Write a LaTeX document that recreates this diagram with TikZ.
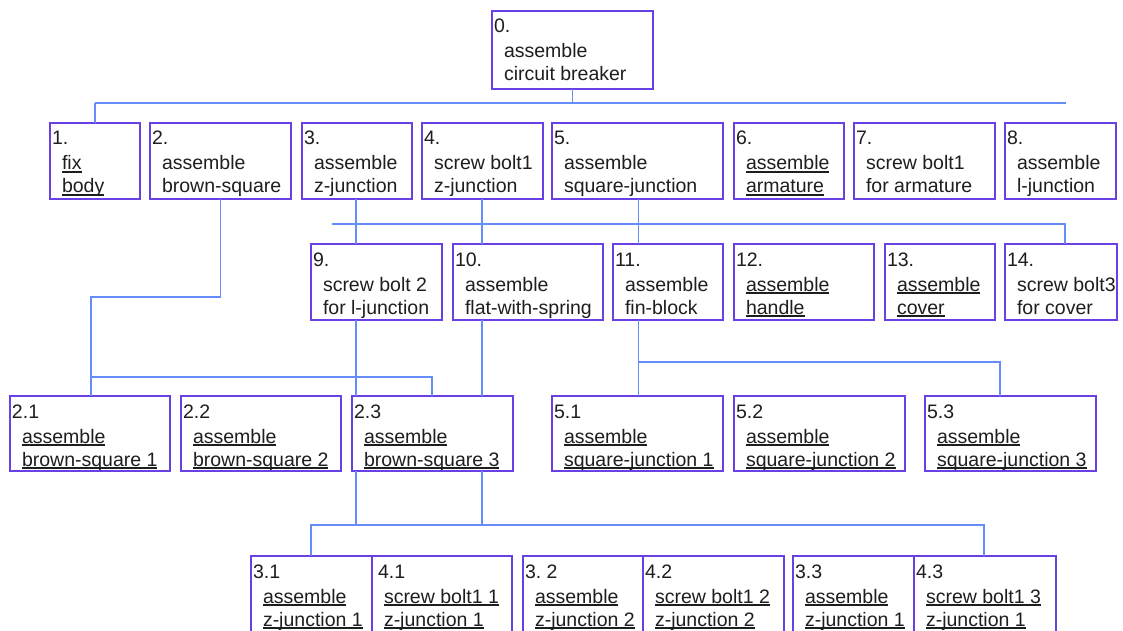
\documentclass[tikz,border=0pt]{standalone}
\usepackage{fontspec}
\setmainfont{Liberation Sans}
\usetikzlibrary{calc}

\definecolor{boxline}{RGB}{104,64,228}
\definecolor{linkline}{RGB}{102,140,250}
\definecolor{ink}{RGB}{30,30,30}

% underline at a fixed depth below the baseline
\newcommand\ul[1]{\setbox0\hbox{#1}\rlap{\rule[-2.6pt]{\wd0}{1.2pt}}\box0}

\tikzset{
  box/.style={draw=boxline, line width=1.6pt, anchor=north west,
              inner sep=0pt, outer sep=0pt, rectangle},
  txt/.style={anchor=base west, inner sep=0pt, outer sep=0pt, text=ink,
              font=\fontsize{19.5}{23}\selectfont},
  link/.style={draw=linkline, line width=1.3pt}
}

% task box: name, x1, y1, x2, y2, number, first line, second line
\newcommand\numdx{2}
\newcommand\taskbox[8]{%
  \pgfmathsetmacro\bw{#4-#2}\pgfmathsetmacro\bh{#5-#3}%
  \node[box, minimum width=\bw pt, minimum height=\bh pt] (#1) at (#2,#3) {};
  \node[txt] (#1-n) at (#2+\numdx,#3+22) {#6};
  \node[txt] (#1-a) at (#2+12,#3+47) {#7};
  \node[txt] (#1-b) at (#2+12,#3+70) {#8};
}

\begin{document}
\begin{tikzpicture}[x=1pt, y=-1pt]
\fill[white] (0,0) rectangle (1123,631);
\useasboundingbox (0,0) rectangle (1123,631);

% top task
\taskbox{b0}{492}{11}{653}{89}{0.}{assemble}{circuit breaker}

% first level
\taskbox{b1}{50}{123}{140}{199}{1.}{\ul{fix}}{\ul{body}}
\taskbox{b2}{150}{123}{291}{199}{2.}{assemble}{brown-square}
\taskbox{b3}{302}{123}{412}{199}{3.}{assemble}{z-junction}
\taskbox{b4}{422}{123}{543}{199}{4.}{screw bolt1}{z-junction}
\taskbox{b5}{552}{123}{723}{199}{5.}{assemble}{square-junction}
\taskbox{b6}{734}{123}{844}{199}{6.}{\ul{assemble}}{\ul{armature}}
\taskbox{b7}{854}{123}{995}{199}{7.}{screw bolt1}{for armature}
\taskbox{b8}{1005}{123}{1116}{199}{8.}{assemble}{l-junction}

% second level
\taskbox{b9}{311}{244}{442}{320}{9.}{screw bolt 2}{for l-junction}
\taskbox{b10}{453}{244}{603}{320}{10.}{assemble}{flat-with-spring}
\taskbox{b11}{613}{244}{723}{320}{11.}{assemble}{fin-block}
\taskbox{b12}{734}{244}{874}{320}{12.}{\ul{assemble}}{\ul{handle}}
\taskbox{b13}{885}{244}{995}{320}{13.}{\ul{assemble}}{\ul{cover}}
\taskbox{b14}{1005}{244}{1117}{320}{14.}{screw bolt3}{for cover}

% brown-square and square-junction subtasks
\taskbox{b21}{10}{396}{170}{471}{2.1}{\ul{assemble}}{\ul{brown-square 1}}
\taskbox{b22}{181}{396}{341}{471}{2.2}{\ul{assemble}}{\ul{brown-square 2}}
\taskbox{b23}{352}{396}{513}{471}{2.3}{\ul{assemble}}{\ul{brown-square 3}}
\taskbox{b51}{552}{396}{723}{471}{5.1}{\ul{assemble}}{\ul{square-junction 1}}
\taskbox{b52}{734}{396}{905}{471}{5.2}{\ul{assemble}}{\ul{square-junction 2}}
\taskbox{b53}{925}{396}{1096}{471}{5.3}{\ul{assemble}}{\ul{square-junction 3}}

% z-junction subtasks
\taskbox{b31}{251}{556}{372}{633}{3.1}{\ul{assemble}}{\ul{z-junction 1}}
\renewcommand\numdx{6}
\taskbox{b41}{372}{556}{512}{633}{4.1}{\ul{screw bolt1 1}}{\ul{z-junction 1}}
\renewcommand\numdx{2}
\taskbox{b32}{523}{556}{643}{633}{3.\ 2}{\ul{assemble}}{\ul{z-junction 2}}
\taskbox{b42}{643}{556}{784}{633}{4.2}{\ul{screw bolt1 2}}{\ul{z-junction 2}}
\taskbox{b33}{793}{556}{914}{633}{3.3}{\ul{assemble}}{\ul{z-junction 1}}
\taskbox{b43}{914}{556}{1056}{633}{4.3}{\ul{screw bolt1 3}}{\ul{z-junction 1}}

% links from the top task
\coordinate (t0L) at (95,103);
\coordinate (t0R) at (1066,103);
\draw[link] (b0.south) -- (b0.south |- t0L);
\draw[link] (t0L) -- (t0R);
\draw[link] (t0L) -- (t0L |- b1.north);

% links into the second level
\coordinate (r2L) at (332,224);
\coordinate (r2R) at (1065,224);
\coordinate (v3) at (356,224);
\coordinate (v4) at (482,224);
\coordinate (v5) at (638.5,224);
\draw[link] (r2L) -- (r2R) -- (r2R |- b14.north);
\draw[link] (v3 |- b3.south) -- (v3 |- b9.north);
\draw[link] (v4 |- b4.south) -- (v4 |- b10.north);
\draw[link] (v5 |- b5.south) -- (v5 |- b11.north);
\draw[link] (v3 |- b9.south) -- (v3 |- b23.north);
\draw[link] (v4 |- b10.south) -- (v4 |- b23.north);

% brown-square branch
\coordinate (k1) at (220.5,297);
\coordinate (k2) at (91,297);
\coordinate (k3) at (91,377);
\coordinate (k4) at (432,377);
\draw[link] (k1 |- b2.south) -- (k1) -- (k2) -- (k2 |- b21.north);
\draw[link] (k3) -- (k4) -- (k4 |- b23.north);

% fin-block branch
\coordinate (f1) at (638.5,362);
\coordinate (f2) at (1000,362);
\draw[link] (v5 |- b11.south) -- (v5 |- b51.north);
\draw[link] (f1) -- (f2) -- (f2 |- b53.north);

% z-junction branch
\coordinate (z1) at (311,525);
\coordinate (z2) at (984,525);
\draw[link] (v3 |- b23.south) -- (v3 |- z1);
\draw[link] (v4 |- b23.south) -- (v4 |- z1);
\draw[link] (z1 |- b31.north) -- (z1) -- (z2) -- (z2 |- b43.north);
\end{tikzpicture}
\end{document}
